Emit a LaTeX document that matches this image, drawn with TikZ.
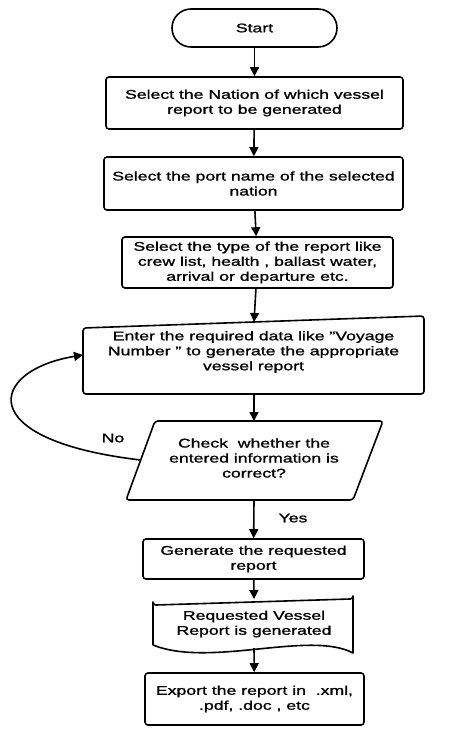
\documentclass[tikz,border=0pt]{standalone}
\usepackage{fontspec}
\setmainfont{Liberation Sans}[FakeStretch=1.4,FakeBold=1.2]
\usetikzlibrary{arrows.meta}
\begin{document}
\begin{tikzpicture}[x=1pt,y=-1pt, line width=1.6pt,
  arr/.style={-{Triangle[length=9pt,width=9pt]}},
  shp/.style={draw, rounded corners=3pt},
  txt/.style={align=center, font=\fontsize{12.6}{15}\selectfont, inner sep=0pt},
  box/.style={draw, rounded corners=3pt, txt},
]
\useasboundingbox (0,0) rectangle (450,737);
% Start
\node[draw, rounded corners=19pt, minimum width=165pt, minimum height=38pt, txt] (start) at (254.5,28) {Start};
\node[box, minimum width=297pt, minimum height=52pt] (b1) at (254.5,103) {Select the Nation of which vessel\\report to be generated};
\node[box, minimum width=299pt, minimum height=53pt] (b2) at (253.5,183.5) {Select the port name of the selected\\nation};
\node[box, minimum width=271pt, minimum height=51pt] (b3) at (257.5,262.5) {Select the type of the report like\\crew list, health , ballast water,\\arrival or departure etc.};
% manual input
\draw[shp] (83,328) -- (424,316) -- (424,394) -- (83,394) -- cycle;
\node[txt] (b4) at (253.5,352) {Enter the required data like "Voyage\\Number " to generate the appropriate\\vessel report};
\coordinate (b4top) at (254,322);
\coordinate (b4bot) at (254,394);
\coordinate (b4left) at (83,355);
% decision parallelogram
\draw[shp] (155,421) -- (383,421) -- (353,500) -- (126,500) -- cycle;
\node[txt] (chk) at (254,458) {Check\ \ whether the\\entered information is\\correct?};
\coordinate (chktop) at (254,421);
\coordinate (chkbot) at (254,500);
\coordinate (chkleft) at (140.7,460);
% generate
\node[box, minimum width=221pt, minimum height=40pt] (gen) at (253.5,559) {Generate the requested\\report};
% document
\draw[line join=round] (153,645) -- (153,602) arc[start angle=180,end angle=270,radius=3pt] -- (350,599) arc[start angle=270,end angle=360,radius=3pt] -- (353,653) .. controls (310,630) and (210,668) .. (153,645);
\node[txt] (doc) at (254,624) {Requested Vessel\\Report is generated};
\coordinate (doctop) at (254,599);
\coordinate (docbot) at (254,648);
% export
\node[box, minimum width=219pt, minimum height=52pt] (exp) at (254.5,699) {Export the report in\ \ .xml,\\.pdf, .doc , etc};
% labels
\node[txt] (no) at (113,438) {No};
\node[txt] (yes) at (293,518) {Yes};
% connectors
\draw[arr] (start) -- (b1);
\draw[arr] (b1) -- (b2);
\draw[arr] (b2) -- (b3);
\draw[arr] (b3) -- (b4top);
\draw[arr] (b4bot) -- (chktop);
\draw[arr] (chkbot) -- (gen);
\draw[arr] (gen) -- (doctop);
\draw[arr] (docbot) -- (exp);
\draw[arr] (chkleft) .. controls (-30,440) and (-10,370) .. (b4left);
\end{tikzpicture}
\end{document}
